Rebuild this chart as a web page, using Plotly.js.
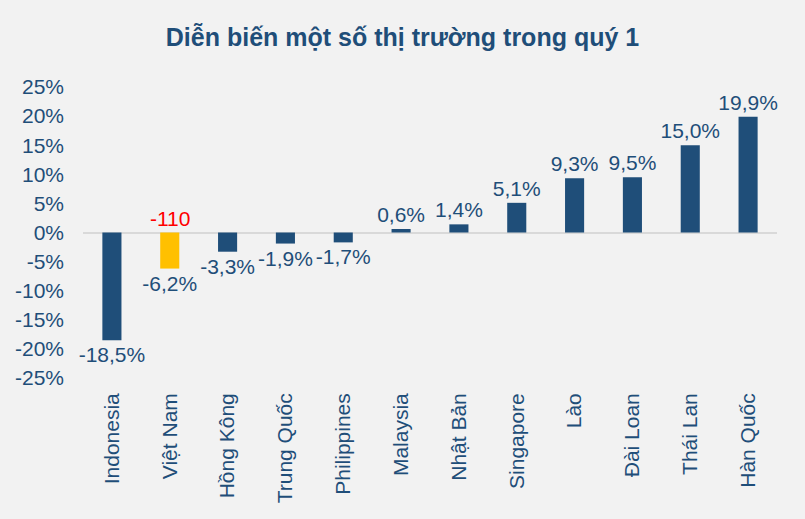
<!DOCTYPE html>
<html><head><meta charset="utf-8">
<script src="https://cdn.plot.ly/plotly-3.0.1.min.js"></script>
<style>html,body{margin:0;padding:0;background:#F2F2F2;}#chart{width:805px;height:519px;}</style>
</head><body><div id="chart"></div>
<script>
const categories = ["Indonesia","Việt Nam","Hồng Kông","Trung Quốc","Philippines","Malaysia","Nhật Bản","Singapore","Lào","Đài Loan","Thái Lan","Hàn Quốc"];
const values = [-18.5,-6.2,-3.3,-1.9,-1.7,0.6,1.4,5.1,9.3,9.5,15.0,19.9];
const highlight = "Việt Nam";
const highlightNote = "-110";
const tickValues = [-25,-20,-15,-10,-5,0,5,10,15,20,25];

const navy = "#1F4E79";
const colors = categories.map(c => c === highlight ? "#FFC000" : navy);
const labels = values.map(v => v.toFixed(1).replace('.', ',') + '%');

const trace = {
  type: 'bar', x: categories, y: values,
  marker: {color: colors},
  text: labels, textposition: 'outside', cliponaxis: false, constraintext: 'none',
  textfont: {family: 'Liberation Sans, Arial', size: 21, color: navy},
  hoverinfo: 'none'
};

const layout = {
  width: 805, height: 519,
  paper_bgcolor: '#F2F2F2', plot_bgcolor: '#F2F2F2',
  margin: {l: 83, r: 28, t: 87, b: 141},
  bargap: 0.67,
  showlegend: false,
  title: {text: '<b>Diễn biến một số thị trường trong quý 1</b>', x: 0.5, xanchor: 'center', y: 0.928, yanchor: 'middle',
          font: {family: 'Liberation Sans Narrow, Arial Narrow, Liberation Sans', size: 25, color: navy}},
  xaxis: {tickangle: -90, showgrid: false, showline: false, zeroline: false, ticks: '', ticklabelstandoff: 10,
          tickfont: {family: 'Liberation Sans, Arial', size: 21, color: navy}, fixedrange: true},
  yaxis: {range: [-25, 25], tickvals: tickValues, ticktext: tickValues.map(v => v + '%'),
          showgrid: false, zeroline: true, zerolinecolor: '#D9D9D9', zerolinewidth: 2,
          showline: false, ticks: '', ticklabelstandoff: 18,
          tickfont: {family: 'Liberation Sans, Arial', size: 21, color: navy}, fixedrange: true},
  annotations: [{x: highlight, y: 0, xref: 'x', yref: 'y', text: highlightNote, showarrow: false,
                 yanchor: 'bottom', yshift: 1, font: {family: 'Liberation Sans, Arial', size: 21, color: '#FF0000'}}]
};
Plotly.newPlot('chart', [trace], layout, {displayModeBar: false, staticPlot: true});
</script></body></html>
